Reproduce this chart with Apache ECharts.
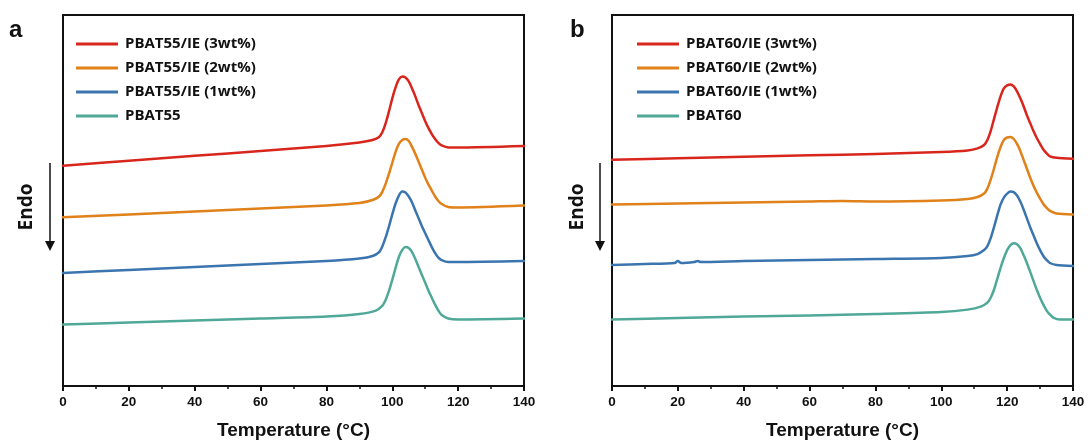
<!DOCTYPE html>
<html><head><meta charset="utf-8">
<script src="https://cdn.jsdelivr.net/npm/echarts@6/dist/echarts.min.js"></script>
<style>html,body{margin:0;padding:0;background:#fff}#c{width:1090px;height:445px}</style>
</head><body><div id="c"></div>
<script>
// Temperature (°C) for each reading; heat flow in arbitrary units (endo down)
const namesA = ['PBAT55/IE (3wt%)','PBAT55/IE (2wt%)','PBAT55/IE (1wt%)','PBAT55'];
const namesB = ['PBAT60/IE (3wt%)','PBAT60/IE (2wt%)','PBAT60/IE (1wt%)','PBAT60'];
const colors = ['#d9261c','#e1811a','#3b75af','#4fa898'];
const xTicks = [0,20,40,60,80,100,120,140];

const a3 = [[0,167],[20,162],[40,157],[60,152],[80,147],[90,143.5],[94,141],[96,138],[97,133],[98,124],[99,112],[100,99],[101,88],[102,80],[103,77],[104,78],[105,82],[106,89],[107,97],[108,106],[109,114],[110,122],[111,129],[112,135],[113,140],[114,144],[115,146.5],[117,148.5],[120,148.5],[140,147]];
const a2 = [[0,219],[20,216],[40,213],[60,210],[80,207],[90,204.5],[94,201.5],[96,198],[97,193],[98,185],[99,175],[100,164],[101,153],[102,145],[103,141],[104,140],[105,142],[106,148],[107,155],[108,163],[109,171],[110,179],[111,186],[112,192],[113,198],[114,202.5],[115,205.5],[117,208.5],[120,209],[140,207]];
const a1 = [[0,275],[20,272],[40,269],[60,266],[80,263],[90,260.5],[94,258],[96,254],[97,248],[98,239],[99,228],[100,216],[101,205],[102,197],[103,193],[104,194],[105,198],[106,204],[107,212],[108,220],[109,228],[110,235],[111,242],[112,249],[113,255],[114,259.5],[115,262],[117,264],[120,264],[140,263]];
const a0 = [[0,327],[20,325],[40,323],[60,321],[80,319],[90,316.5],[95,313],[97,308],[98,302],[99,293],[100,282],[101,270],[102,259],[103,252],[104,249],[105,250],[106,254],[107,261],[108,269],[109,277],[110,285],[111,293],[112,300],[113,307],[114,313],[115,317.5],[117,321],[120,322],[140,321]];

const b3 = [[0,161],[20,159.5],[40,158],[60,156.5],[80,155],[100,153],[108,151.5],[111,149.5],[113,146],[114,141],[115,132],[116,120],[117,108],[118,97],[119,89],[120,86],[121,85],[122,87],[123,92],[124,99],[125,107],[126,116],[127,124],[128,132],[129,139],[130,145],[131,150.5],[132,154.5],[133,157.5],[135,159],[140,160]];
const b2 = [[0,206],[20,205],[40,204],[60,203],[70,202.5],[80,203],[100,202],[108,200.5],[111,198.5],[113,195],[114,190],[115,181],[116,170],[117,158],[118,148],[119,141],[120,138.5],[121,138],[122,140],[123,145],[124,152],[125,161],[126,170],[127,179],[128,187],[129,194],[130,200],[131,205.5],[132,209.5],[133,212.5],[135,215],[140,216]];
const b1 = [[0,267],[10,266],[19,265],[20,263],[21,265],[25,264],[26,263],[27,264],[40,263],[60,262],[80,261],[100,260],[108,258],[111,256],[113,252],[114,248],[115,240],[116,229],[117,217],[118,206],[119,199],[120,195],[121,193],[122,193.5],[123,197],[124,203],[125,211],[126,220],[127,229],[128,237],[129,245],[130,252],[131,258],[132,262],[133,265],[135,267],[140,268]];
const b0 = [[0,322],[20,320.5],[40,319],[60,318],[80,316.5],[100,314.5],[108,312],[112,309],[114,305],[115,300],[116,292],[117,281],[118,270],[119,260],[120,252],[121,247],[122,245],[123,246],[124,250],[125,257],[126,265],[127,274],[128,283],[129,292],[130,300],[131,307],[132,313],[133,317],[134,320],[136,322],[140,322]];

const dataA = [a3,a2,a1,a0];
const dataB = [b3,b2,b1,b0];

const chart = echarts.init(document.getElementById('c'), null, {renderer:'canvas'});
const fontTick = {fontFamily:'Liberation Sans', fontWeight:'bold', fontSize:13.5, color:'#111'};
function xAx(gi){
  return {type:'value', gridIndex:gi, min:0, max:140, interval:20,
    name:'Temperature (°C)', nameLocation:'middle', nameGap:35,
    nameTextStyle:{fontFamily:'Liberation Sans', fontWeight:'bold', fontSize:19, color:'#111'},
    axisLine:{show:true, onZero:false, lineStyle:{color:'#111', width:2}},
    axisTick:{show:true, inside:false, length:5, lineStyle:{color:'#111', width:2}},
    minorTick:{show:true, splitNumber:2, length:3, lineStyle:{color:'#111', width:1.5}},
    axisLabel:Object.assign({margin:9, formatter:v=>xTicks.includes(v)?String(v):''}, fontTick),
    splitLine:{show:false}};
}
function yAx(gi){
  return {type:'value', gridIndex:gi, min:15, max:389, inverse:true,
    axisLine:{show:true, lineStyle:{color:'#111', width:2}},
    axisTick:{show:false}, axisLabel:{show:false}, splitLine:{show:false}};
}
const series = [];
[dataA, dataB].forEach((set, gi) => {
  const names = gi===0 ? namesA : namesB;
  set.forEach((d, i) => series.push({
    type:'line', name:names[i], xAxisIndex:gi, yAxisIndex:gi, data:d,
    showSymbol:false, smooth:0.25,
    lineStyle:{color:colors[i], width:2.5, join:'round', cap:'round'}, itemStyle:{color:colors[i]}, z:3
  }));
});
function legend(names, left){
  return {data:names.map((n,i)=>({name:n, icon:'rect', itemStyle:{color:colors[i]}})),
    orient:'vertical', left:left, top:30, itemWidth:42, itemHeight:3, itemGap:6,
    textStyle:{fontFamily:'Open Sans', fontWeight:'bold', fontSize:15, color:'#111', lineHeight:18, padding:[0,0,0,2]},
    selectedMode:false};
}
chart.setOption({
  animation:false,
  grid:[
    {left:63, right:566, top:15, bottom:56, show:true, borderColor:'#111', borderWidth:2},
    {left:612, right:17, top:15, bottom:56, show:true, borderColor:'#111', borderWidth:2}
  ],
  xAxis:[xAx(0), xAx(1)],
  yAxis:[yAx(0), yAx(1)],
  legend:[legend(namesA, 71), legend(namesB, 632)],
  series:series,
  graphic:[
    {type:'text', left:9, top:18, style:{text:'a', font:'bold 24px "Liberation Sans"', fill:'#111'}},
    {type:'text', left:570, top:18, style:{text:'b', font:'bold 24px "Liberation Sans"', fill:'#111'}},
    {type:'text', x:27, y:207, rotation:Math.PI/2, style:{text:'Endo', font:'bold 19px "Open Sans"', fill:'#111', align:'center', verticalAlign:'middle'}},
    {type:'text', x:578, y:207, rotation:Math.PI/2, style:{text:'Endo', font:'bold 19px "Open Sans"', fill:'#111', align:'center', verticalAlign:'middle'}},
    {type:'line', shape:{x1:50, y1:163, x2:50, y2:245}, style:{stroke:'#111', lineWidth:1.5}},
    {type:'polygon', shape:{points:[[45,241],[55,241],[50,251]]}, style:{fill:'#111'}},
    {type:'line', shape:{x1:600, y1:163, x2:600, y2:245}, style:{stroke:'#111', lineWidth:1.5}},
    {type:'polygon', shape:{points:[[595,241],[605,241],[600,251]]}, style:{fill:'#111'}}
  ]
});
</script></body></html>
